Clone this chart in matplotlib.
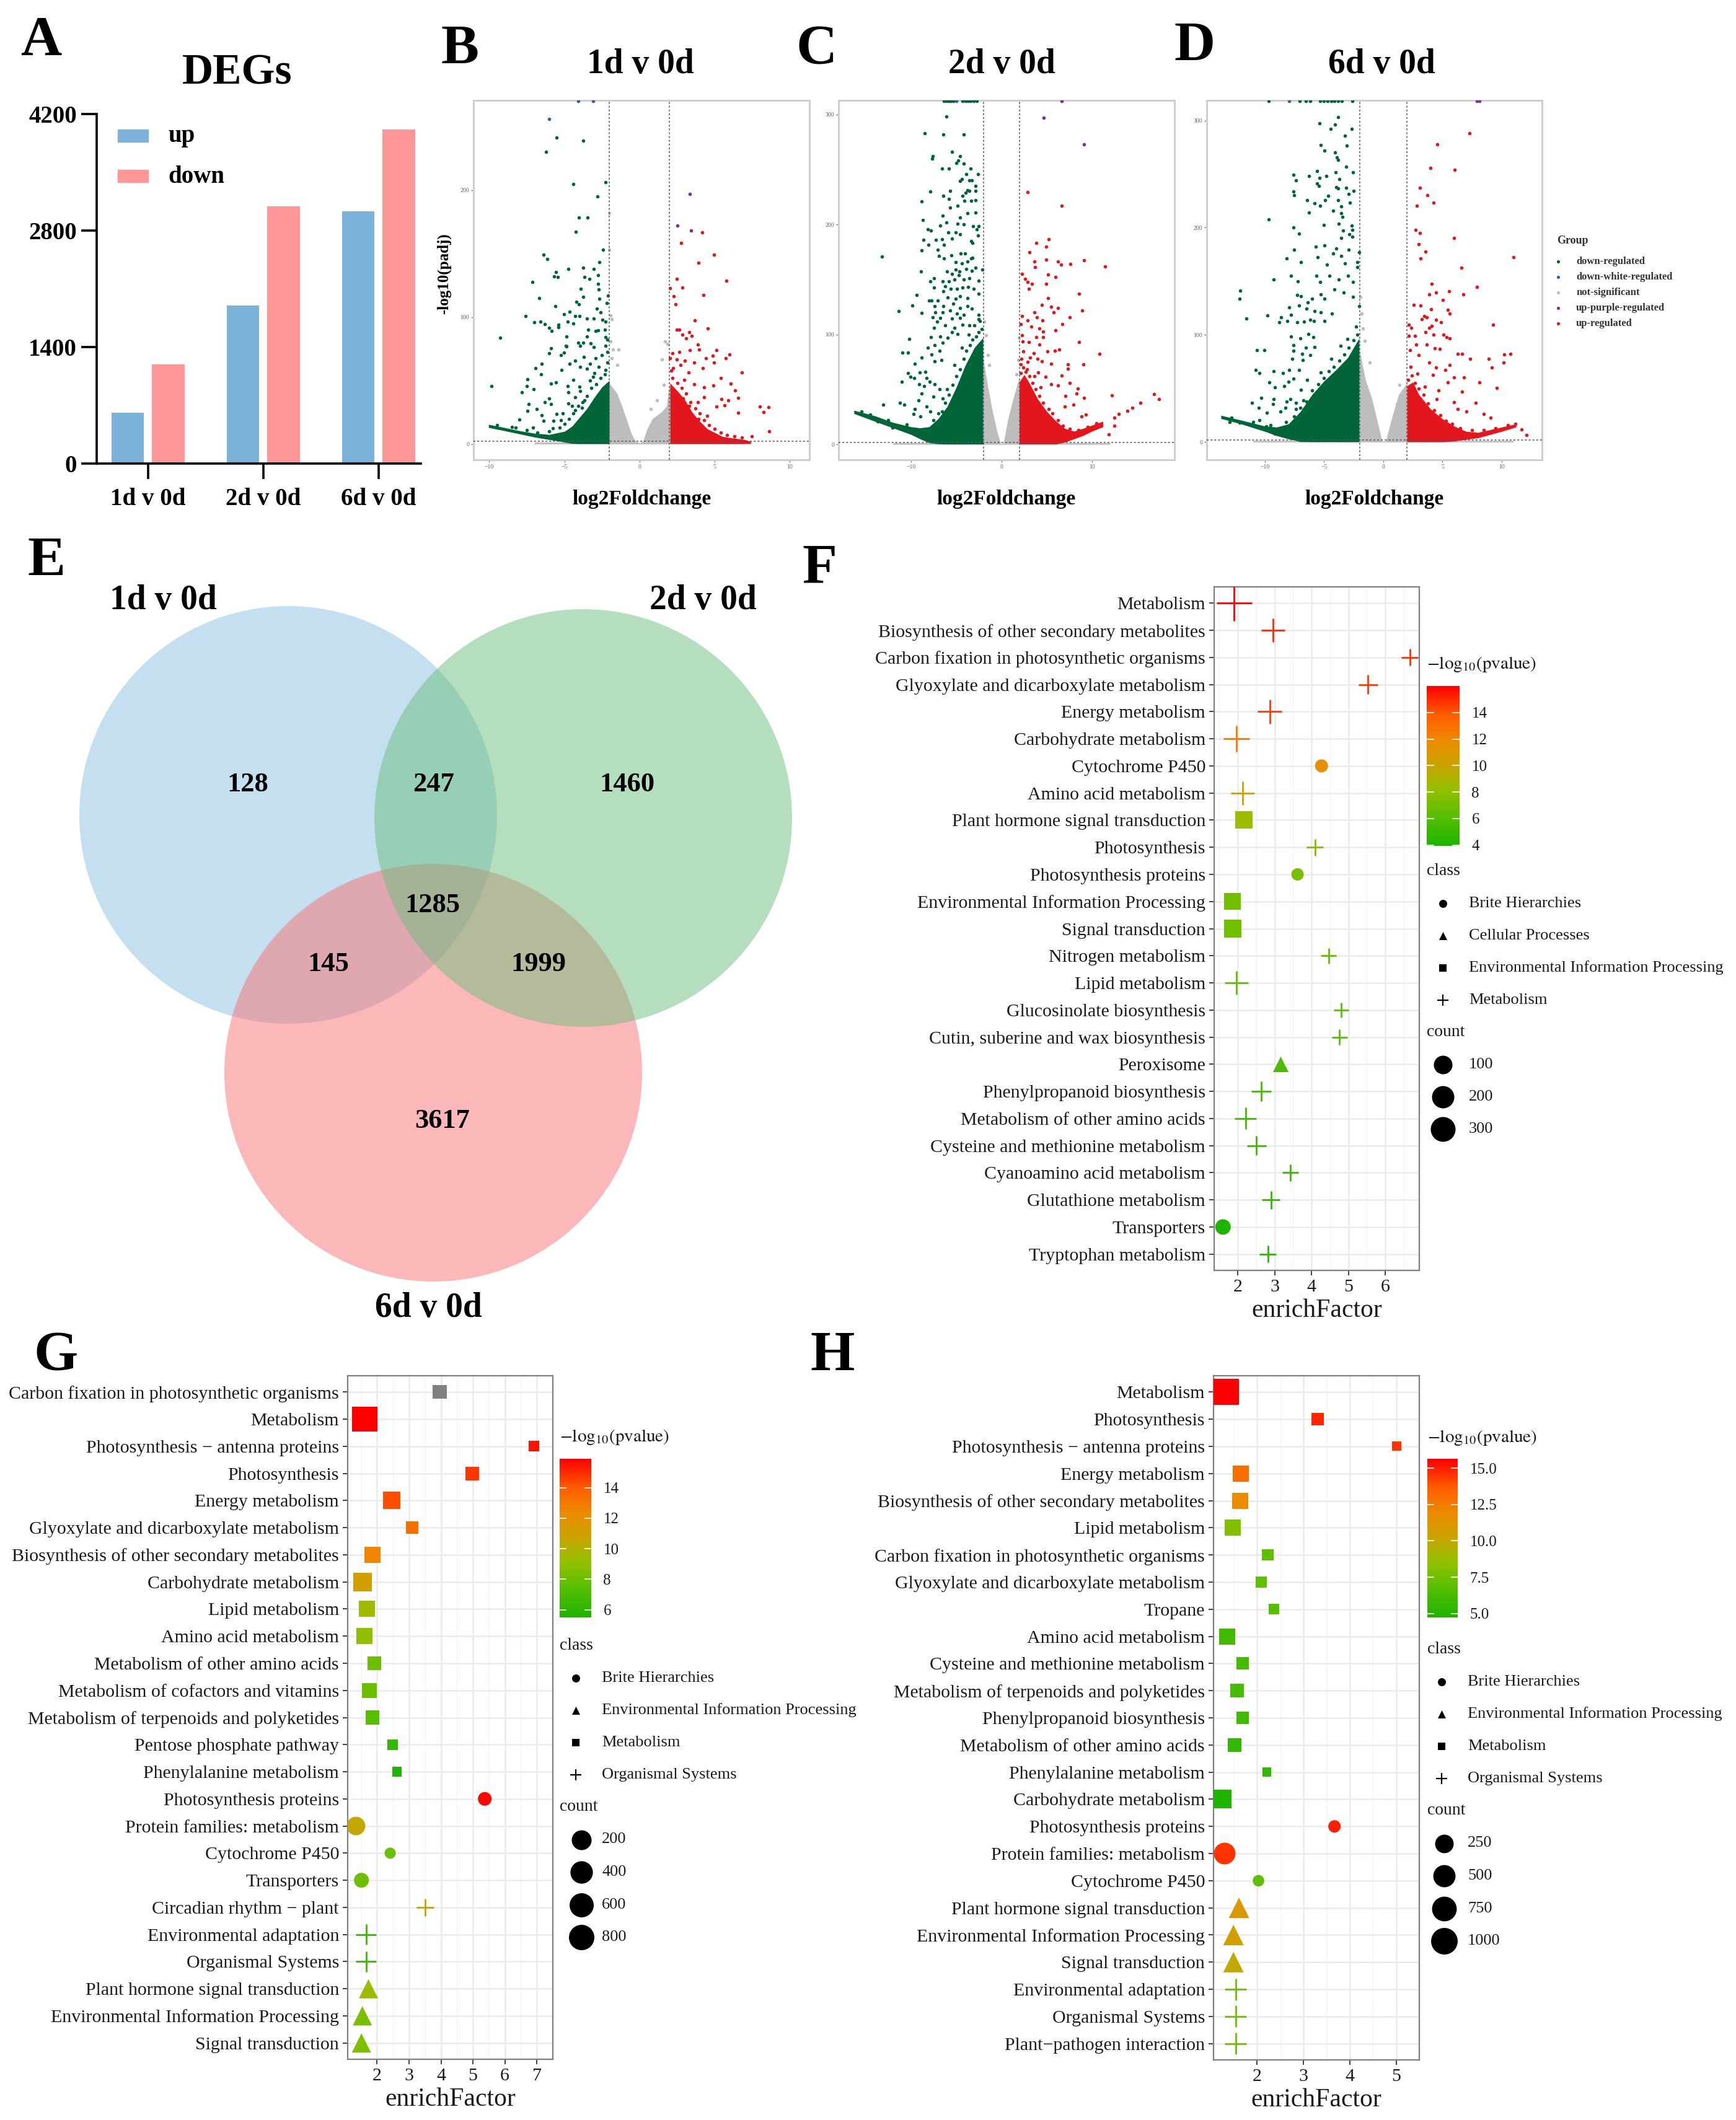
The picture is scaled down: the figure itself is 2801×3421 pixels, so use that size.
import numpy as np
import matplotlib
matplotlib.use("Agg")
import matplotlib.pyplot as plt
from matplotlib.patches import Circle, Rectangle
from matplotlib.colors import LinearSegmentedColormap, Normalize
from matplotlib.colorbar import ColorbarBase

W, H = 2801, 3421
plt.rcParams["font.family"] = ["Liberation Serif", "DejaVu Serif"]
plt.rcParams["mathtext.fontset"] = "stix"

# ---------------- A: number of DEGs ----------------
GROUPS = ["1d v 0d", "2d v 0d", "6d v 0d"]
UP = [610, 1900, 3030]
DOWN = [1195, 3091, 4016]

# ---------------- B-D: volcano plots ----------------
VOLCANO_GROUPS = ["down-regulated", "down-white-regulated", "not-significant",
                  "up-purple-regulated", "up-regulated"]

# dense clouds, read as envelopes (x, lower, upper)
B_GREY_X = [-7.0, -2.02, -2.02, -1.5, -1.16, -0.8, -0.54, -0.25, 0.0, 0.23, 0.5, 0.85, 1.2, 1.47, 1.8, 1.95, 2.02, 2.02, 7.0]
B_GREY_Y = [1.5, 1.5, 48, 40, 29.5, 17, 8, 2, 1, 2.5, 12, 20, 23, 25.5, 30, 45, 45, 1.5, 1.5]
B_DOWN_X = [-10.05, -9.0, -8.0, -7.0, -6.0, -5.0, -4.5, -4.0, -3.5, -3.0, -2.5, -2.02]
B_DOWN_LO = [13.0, 10.5, 8.0, 5.5, 3.5, 1.5, 0.5, 0.3, 0.3, 0.3, 0.3, 0.3]
B_DOWN_HI = [15.5, 13.0, 10.5, 8.5, 7.5, 10.0, 14.0, 21.0, 28.0, 37.0, 45.0, 50.0]
B_UP_X = [2.02, 2.5, 3.0, 3.5, 4.0, 4.5, 5.0, 5.5, 6.0, 7.0, 7.4]
B_UP_LO = [0.3, 0.3, 0.3, 0.3, 0.3, 0.3, 0.3, 0.3, 0.3, 0.3, 0.3]
B_UP_HI = [48, 42, 35, 25, 18, 12, 9, 6, 5, 3.5, 2]

B_DOWN_PTS = [(-5.51, 241), (-3.76, 238.6), (-6.21, 230), (-4.43, 204.8), (-2.25, 206.3), (-2.81, 194.8),
              (-4.02, 178.5), (-3.48, 178.5), (-4.25, 167), (-2.42, 153), (-6.40, 149), (-6.13, 145.5),
              (-2.67, 143), (-4.74, 138), (-3.76, 139), (-3.07, 138), (-5.56, 135.5), (-5.70, 132),
              (-5.43, 131.5), (-3.65, 131.5), (-3.34, 130), (-2.78, 133), (-7.13, 127.6), (-2.78, 126),
              (-2.72, 121.5), (-3.90, 122), (-6.69, 115), (-3.76, 116), (-2.10, 117), (-4.19, 112),
              (-4.02, 110), (-5.62, 108.5), (-2.66, 114.6), (-2.20, 111), (-2.86, 106.5), (-2.61, 103.5),
              (-5.02, 102), (-4.67, 104), (-7.58, 101), (-4.30, 101), (-3.99, 101), (-3.49, 99),
              (-3.06, 99), (-2.47, 97.6), (-2.28, 96.5), (-7.00, 96), (-6.60, 96.5), (-6.32, 94.6),
              (-4.77, 96.3), (-4.43, 95), (-5.42, 94), (-6.01, 91.7), (-5.40, 92), (-5.87, 89),
              (-3.42, 90), (-2.92, 89), (-2.75, 89.5), (-2.31, 90.2), (-9.29, 83.5), (-4.88, 84.7),
              (-3.52, 84.7), (-2.28, 84), (-2.13, 82), (-4.08, 79.7), (-3.76, 79.7), (-3.25, 79.3),
              (-4.89, 77.4), (-5.88, 75.4), (-4.86, 76.8), (-3.97, 77.4), (-3.06, 76.4), (-2.25, 77.4),
              (-6.02, 71.6), (-5.23, 70), (-5.05, 72.2), (-4.30, 65.8), (-3.71, 68.7), (-2.93, 67.8),
              (-2.14, 72.6), (-6.51, 63.2), (-6.91, 59.7), (-6.57, 54.9), (-5.20, 58.2), (-4.66, 63),
              (-3.96, 61), (-3.52, 59.1), (-3.29, 63), (-2.72, 61), (-2.25, 58.2), (-9.86, 45.7),
              (-7.48, 51), (-7.50, 45.7), (-7.84, 40.9), (-7.07, 43.2), (-5.90, 47.6), (-5.56, 48.6),
              (-4.80, 45.7), (-4.43, 50.5), (-4.74, 40.9), (-6.02, 36.1), (-7.38, 31.7), (-6.29, 32.8),
              (-5.90, 31.7), (-6.83, 27.4), (-7.45, 26.1), (-8.00, 19.4), (-8.23, 13), (-7.10, 13),
              (-6.52, 22.6), (-6.37, 18.4), (-5.75, 18.2), (-5.51, 23.6), (-5.12, 24.2), (-5.79, 12.5),
              (-5.25, 18.8), (-4.30, 26.5), (-4.74, 32.2), (-4.27, 37), (-3.85, 28.4), (-3.65, 34.2),
              (-3.96, 41.8),
              (-2.3, 55), (-2.6, 52), (-2.9, 47), (-3.2, 44), (-3.5, 38), (-3.8, 33), (-4.1, 30), (-4.4, 24),
              (-4.7, 20), (-5.0, 16), (-5.3, 13), (-2.15, 64), (-2.5, 70), (-3.0, 56), (-3.3, 50), (-3.1, 53),
              (-4.0, 45), (-4.5, 30), (-6.0, 10), (-6.8, 9), (-7.5, 11), (-8.5, 13.5), (-9.5, 15)]
B_UP_PTS = [(4.16, 166.6), (2.76, 158.5), (4.97, 149), (3.93, 142.6), (2.48, 130), (5.78, 128.6),
            (2.02, 122.8), (2.84, 123), (2.28, 116.5), (4.24, 117.3), (2.41, 110), (3.66, 97.5),
            (2.48, 90.2), (2.64, 90.2), (3.31, 88), (4.55, 91.2), (2.83, 86), (3.11, 83), (3.46, 85),
            (3.88, 78.3), (3.96, 74.5), (2.17, 71.6), (2.64, 72.6), (3.34, 74), (5.12, 74), (4.86, 69.7),
            (5.98, 70.6), (5.75, 67.8), (4.43, 67.8), (4.94, 64), (2.02, 67.8), (2.48, 66.8), (3.0, 65.8),
            (3.62, 64), (4.19, 59.7), (2.22, 59.7), (2.72, 62), (3.26, 56.2), (6.79, 56.2), (2.95, 50.5),
            (5.39, 51.8), (6.06, 47.6), (4.89, 46.3), (4.30, 44.7), (3.62, 47), (6.37, 42.4), (6.57, 36.5),
            (4.27, 37), (5.43, 35.5), (5.90, 34.2), (5.67, 30.3), (5.12, 29.4), (7.99, 29.7), (8.58, 29),
            (8.23, 25.1), (6.57, 24.6), (8.62, 10.2), (7.45, 6.3), (3.88, 33.2),
            (2.2, 52), (2.5, 48), (2.8, 44), (3.1, 40), (3.4, 33), (3.7, 28), (4.0, 24), (4.3, 19), (4.6, 15),
            (5.0, 12), (5.4, 9), (5.8, 7), (6.3, 6), (6.8, 5), (2.3, 40), (2.9, 36), (3.3, 30), (4.5, 22),
            (3.9, 20), (2.1, 58)]
B_GREY_PTS = [(-1.94, 101.3), (-1.86, 98.5), (-1.94, 81), (-1.79, 74.5), (-1.40, 74.5), (-1.86, 67.8),
              (-1.48, 62), (1.71, 81), (1.86, 79), (1.47, 66.8), (1.63, 46.6), (1.16, 34.2), (0.73, 27.4),
              (-2.0, 181.6), (-2.0, 153)]
B_BLUE = [(-6.0, 256), (-4.08, 270), (-3.10, 270)]
B_PURPLE = [(3.35, 196.7), (2.52, 172), (3.43, 168)]

C_GREY_X = [-12.0, -2.05, -2.05, -1.5, -1.0, -0.5, -0.1, 0.2, 0.7, 1.2, 1.8, 1.95, 1.95, 12.0]
C_GREY_Y = [1.5, 1.5, 79, 52, 30, 12, 1, 1, 23, 39, 56.8, 60, 1.5, 1.5]
C_DOWN_X = [-16.3, -14.0, -12.0, -10.0, -9.0, -8.0, -7.0, -6.0, -5.0, -4.0, -3.0, -2.05]
C_DOWN_LO = [28, 21, 15, 9, 5, 1.5, 0.5, 0.3, 0.3, 0.3, 0.3, 0.3]
C_DOWN_HI = [31, 26, 20, 16, 15, 16, 23.4, 34.5, 52, 72, 88, 97]
C_UP_X = [1.95, 2.5, 3.0, 3.5, 4.0, 5.0, 6.0, 7.0, 8.0, 9.0, 10.0, 11.2]
C_UP_LO = [0.3, 0.3, 0.3, 0.3, 0.3, 0.3, 0.3, 2, 5, 8, 12, 16]
C_UP_HI = [56.8, 63.5, 56.8, 49, 41.2, 30, 21.2, 14.5, 12, 14.5, 17.5, 21]

C_DOWN_PTS = [(-6.10, 298), (-8.49, 283), (-6.41, 281.7), (-4.17, 281.7), (-5.48, 265.7), (-7.59, 262),
              (-7.64, 260), (-4.56, 262), (-4.81, 258), (-5.02, 256), (-4.17, 255), (-6.56, 250.5),
              (-5.79, 250.5), (-3.40, 250.5), (-4.61, 239.4), (-4.38, 241), (-3.91, 245.7), (-3.58, 239.9),
              (-3.27, 239.9), (-2.57, 245.7), (-2.86, 235), (-7.85, 229.8), (-5.69, 230.5), (-6.46, 226),
              (-5.84, 223.4), (-3.99, 228.7), (-3.78, 231), (-3.58, 230.5), (-2.86, 230.5), (-4.30, 226),
              (-4.09, 221.6), (-3.37, 221.6), (-2.88, 222), (-8.80, 220.7), (-5.71, 215.3), (-4.86, 217),
              (-3.73, 210), (-2.86, 210.9), (-6.49, 208.2), (-8.67, 204.2), (-6.10, 202), (-4.56, 206),
              (-4.86, 200.4), (-4.14, 199.8), (-6.74, 198.7), (-3.14, 198.2), (-2.50, 198.2), (-8.11, 195.8),
              (-7.77, 194.2), (-5.89, 193), (-5.07, 192.6), (-4.56, 190.9), (-2.75, 195.3), (-2.63, 190),
              (-8.62, 186), (-7.23, 186), (-6.56, 186.6), (-5.46, 187), (-3.32, 184.9), (-3.19, 183.3),
              (-8.06, 181.5), (-6.36, 181.5), (-8.80, 176.6), (-7.03, 177), (-4.04, 173.7), (-4.50, 173.7),
              (-5.53, 171.9), (-6.92, 171.5), (-3.22, 169.9), (-13.23, 170.8), (-6.36, 169.3), (-5.07, 165.5),
              (-4.35, 164.8), (-3.78, 166), (-3.37, 169.3), (-2.11, 159.2), (-8.93, 157.5), (-6.02, 157),
              (-5.46, 154.8), (-5.07, 159.2), (-4.68, 157), (-3.91, 159.7), (-3.27, 158), (-2.88, 160.4),
              (-7.44, 151.2), (-7.90, 148), (-6.49, 148), (-5.84, 148), (-5.17, 149.9), (-4.74, 153.7),
              (-4.17, 149.9), (-3.53, 150.8), (-2.50, 148.6), (-7.44, 142.5), (-6.23, 143.7), (-5.64, 141.4),
              (-4.94, 141.4), (-4.30, 142.5), (-3.66, 143.2), (-3.06, 141.4), (-9.37, 135.6), (-6.41, 139.2),
              (-8.03, 130.7), (-7.70, 130.7), (-7.08, 130.7), (-5.97, 133.6), (-5.07, 132.5), (-4.61, 134.7),
              (-3.78, 133), (-2.50, 137), (-9.83, 126.5), (-7.39, 125.8), (-6.41, 125.8), (-5.33, 128),
              (-4.56, 124), (-3.78, 125.8), (-3.27, 123.6), (-11.38, 121.4), (-8.80, 119.6), (-7.34, 120.3),
              (-6.49, 119.8), (-5.71, 121.8), (-4.94, 119.2), (-4.17, 118), (-2.50, 118), (-7.59, 115.4),
              (-7.13, 111.4), (-6.74, 115.2), (-5.46, 114.7), (-4.61, 115.2), (-2.50, 113.6), (-7.44, 105.8),
              (-6.23, 108.5), (-5.20, 105.8), (-4.30, 109), (-3.53, 108), (-10.17, 95.8), (-7.77, 97.3),
              (-6.74, 98), (-5.97, 96.9), (-5.46, 101.8), (-4.86, 100.2), (-8.16, 88), (-7.39, 90.2),
              (-6.49, 92.4), (-10.94, 83.5), (-10.35, 83.5), (-7.70, 81.7), (-8.85, 79), (-6.87, 85.3),
              (-9.58, 73.5), (-7.39, 75.7), (-6.62, 76.8), (-9.01, 65.7), (-8.42, 66.1), (-10.35, 64.6),
              (-10.09, 61.7), (-9.65, 60.1), (-8.29, 60.1), (-10.99, 56.8), (-9.11, 54.6), (-8.55, 52.8),
              (-7.95, 56.8), (-7.39, 54.6), (-11.20, 37.9), (-10.73, 36.3), (-12.02, 15.1), (-13.69, 21.2),
              (-13.05, 36.1), (-8.80, 46.1), (-9.19, 40.1), (-9.58, 32.3), (-9.70, 27.8), (-8.98, 25.6),
              (-8.29, 34.5), (-7.90, 30), (-7.52, 43.4), (-6.87, 50.1),
              (-2.2, 105), (-2.5, 102), (-2.8, 98), (-3.2, 95), (-3.5, 90), (-3.9, 85), (-4.2, 78), (-4.6, 68),
              (-5.0, 62), (-5.4, 54), (-5.8, 45), (-6.2, 38), (-6.6, 30), (-7.0, 28), (-7.5, 22), (-2.4, 112),
              (-3.0, 108), (-3.6, 100), (-4.4, 88), (-5.2, 72), (-6.0, 50), (-6.5, 42), (-10.5, 18),
              (-12.5, 22), (-14.5, 27), (-15.5, 30),
              (-6.36, 312), (-6.10, 312), (-5.85, 312), (-5.60, 312), (-5.33, 312), (-4.30, 312),
              (-4.00, 312), (-3.70, 312), (-3.40, 312), (-3.10, 312), (-2.75, 312)]
C_UP_PTS = [(2.91, 229.4), (6.64, 217.1), (3.81, 183.3), (5.23, 186.4), (4.92, 179.7), (3.11, 174.8),
            (3.60, 166.4), (4.92, 168.2), (6.25, 166.4), (6.59, 163.7), (7.59, 164.1), (9.09, 167.5),
            (11.45, 161.5), (3.68, 161), (2.27, 155.2), (5.15, 154.3), (5.95, 152.1), (2.60, 150.3),
            (2.86, 147.7), (3.37, 145.9), (4.92, 145.9), (3.04, 141.4), (5.17, 133), (8.57, 137),
            (4.45, 127), (5.48, 125.2), (6.25, 124), (8.88, 121.8), (3.63, 119.8), (5.74, 119.8),
            (3.89, 115.8), (4.50, 112.9), (7.54, 115.8), (2.27, 116.5), (6.72, 109.1), (2.14, 109.1),
            (2.86, 112.5), (3.29, 106.9), (4.20, 105.3), (4.58, 102.4), (5.95, 103.6), (2.27, 99.1),
            (3.81, 97.3), (4.58, 97.3), (8.57, 92.9), (2.34, 93.5), (3.04, 92.9), (4.20, 90.6),
            (5.10, 84.6), (5.87, 85.3), (6.38, 86.2), (10.84, 82.4), (2.39, 84.6), (3.55, 83.1),
            (3.17, 79), (3.94, 77.9), (4.45, 75.7), (5.48, 73.5), (7.34, 72.8), (7.34, 69), (9.01, 72.8),
            (2.14, 72.8), (2.78, 68), (4.07, 65.3), (4.84, 61.2), (6.64, 62.4), (7.54, 55.7), (5.48, 54.6),
            (6.25, 53.5), (8.44, 50.6), (12.18, 44.5), (16.81, 45.7), (17.38, 41.2), (15.34, 37.9),
            (14.44, 33.4), (13.93, 30.5), (12.95, 27.8), (12.43, 24.5), (12.43, 16.7), (11.87, 8.9),
            (9.09, 42.3), (8.31, 46.1), (9.34, 27.4), (8.83, 25.2), (7.93, 36.3), (7.08, 43.9), (6.98, 34.5),
            (2.1, 65), (2.4, 70), (2.7, 66), (3.1, 62), (3.4, 56), (3.8, 50), (4.2, 44), (4.6, 38), (5.2, 32),
            (5.6, 28), (6.2, 22), (6.8, 17), (7.5, 14), (8.5, 13), (9.5, 16), (10.5, 19), (2.2, 78), (2.9, 75),
            (3.6, 62), (4.3, 52)]
C_GREY_PTS = [(-1.93, 111.4), (-1.72, 99), (-1.52, 81.3), (-1.34, 72.4), (1.93, 96.9), (1.83, 76.8),
              (1.62, 63.5)]
C_BLUE = [(-4.97, 312)]
C_PURPLE = [(4.66, 296.9), (9.09, 272.8), (6.64, 312)]

D_GREY_X = [-11.0, -2.04, -2.04, -1.5, -1.0, -0.5, -0.1, 0.2, 0.7, 1.3, 1.9, 2.0, 2.0, 11.0]
D_GREY_Y = [1.5, 1.5, 88, 58, 42, 19.4, 1, 1, 21.7, 44.5, 53.7, 55, 1.5, 1.5]
D_DOWN_X = [-13.7, -12.0, -10.0, -9.0, -8.0, -7.0, -6.0, -5.0, -4.0, -3.0, -2.04]
D_DOWN_LO = [22, 17, 10, 6, 3, 0.5, 0.3, 0.3, 0.3, 0.3, 0.3]
D_DOWN_HI = [25, 20.5, 15, 14, 17, 28.5, 44.5, 57, 67.4, 78.8, 97]
D_UP_X = [2.0, 2.5, 3.0, 4.0, 5.0, 6.0, 7.0, 8.0, 9.0, 10.0, 11.2]
D_UP_LO = [0.3, 0.3, 0.3, 0.3, 0.3, 1, 2.5, 4, 7, 10, 14]
D_UP_HI = [52.5, 56, 44.5, 30.8, 21.7, 14.8, 10, 9, 11.5, 14, 17]

D_DOWN_PTS = [(-3.83, 303.4), (-5.39, 297.5), (-4.05, 296.3), (-4.45, 292.4), (-2.65, 292.4), (-3.25, 286),
              (-5.25, 277.1), (-3.07, 276.7), (-4.95, 271.9), (-4.05, 270.3), (-3.89, 265.7), (-3.79, 263.4),
              (-3.11, 257), (-7.56, 249.5), (-7.39, 244.5), (-6.29, 248.3), (-5.61, 252.9), (-5.39, 246.7),
              (-4.79, 248.3), (-4.03, 251.8), (-3.69, 245.4), (-2.55, 251.8), (-5.59, 241.3), (-5.45, 239),
              (-3.99, 238.1), (-3.79, 236.8), (-3.11, 237.4), (-7.56, 233.6), (-7.51, 230.6), (-4.65, 229.5),
              (-2.51, 234.5), (-2.91, 231.7), (-6.45, 225.6), (-4.91, 226), (-3.83, 226), (-2.83, 223.7),
              (-5.81, 223), (-5.35, 220.3), (-4.23, 215.8), (-3.55, 219.9), (-6.25, 214.2), (-3.55, 213.5),
              (-9.66, 207.8), (-5.01, 202.7), (-3.43, 210), (-2.65, 202), (-3.75, 203.7), (-7.56, 200.2),
              (-2.59, 197.9), (-3.39, 197.5), (-2.85, 194.1), (-2.59, 191.8), (-7.11, 194.7), (-3.55, 190.6),
              (-5.71, 182.6), (-4.95, 183.8), (-7.52, 179.7), (-3.99, 180.4), (-2.91, 179.7), (-2.04, 177),
              (-8.16, 171.2), (-6.95, 167.8), (-5.55, 172.4), (-4.25, 175.8), (-3.55, 173.5), (-3.25, 166.7),
              (-2.20, 167.8), (-2.18, 163.2), (-4.75, 165.5), (-9.26, 151.8), (-7.76, 155.3), (-7.19, 150.2),
              (-5.65, 155.3), (-5.35, 149.5), (-4.55, 155.3), (-3.75, 151.8), (-2.95, 155.3), (-2.55, 149.5),
              (-12.10, 141.6), (-12.12, 133.6), (-7.25, 137), (-6.95, 136.3), (-6.39, 130.1), (-5.99, 133.6),
              (-5.25, 138.1), (-4.95, 134), (-4.15, 142.7), (-3.35, 139.3), (-2.55, 135.8), (-2.04, 126.7),
              (-7.11, 127.4), (-7.96, 125.6), (-6.49, 124.4), (-5.79, 122.1), (-5.25, 121), (-4.35, 119.9),
              (-11.56, 115.3), (-9.76, 118), (-8.60, 116.4), (-8.80, 111.9), (-8.10, 113), (-7.76, 118.7),
              (-7.25, 111.9), (-6.69, 112.3), (-6.15, 114.1), (-5.85, 113), (-4.95, 113), (-7.76, 98.6),
              (-6.31, 100.9), (-5.91, 98.2), (-6.99, 97), (-7.56, 90.2), (-6.55, 87.9), (-5.81, 89),
              (-10.64, 85.6), (-10.05, 85.6), (-7.56, 85.2), (-6.85, 82.2), (-6.15, 81.1), (-7.66, 77.6),
              (-6.79, 76.5), (-10.76, 67.4), (-10.46, 64.6), (-9.26, 66.2), (-8.46, 64.6), (-7.96, 67.4),
              (-7.11, 67.4), (-9.64, 55.9), (-9.12, 51.4), (-8.36, 52.5), (-7.99, 56.4), (-7.56, 59.4),
              (-6.95, 49.1), (-6.45, 58.2), (-10.32, 41.1), (-11.06, 36.5), (-10.52, 32), (-9.80, 27.4),
              (-9.26, 40), (-9.28, 35.4), (-8.70, 28.5), (-8.16, 38.1), (-8.26, 32), (-7.86, 40),
              (-7.39, 36.5), (-7.35, 30.8), (-6.75, 38.8), (-6.69, 30.8), (-12.12, 18.3), (-12.97, 19),
              (-10.46, 20.5), (-9.86, 14.8), (-9.12, 8),
              (-2.2, 100), (-2.5, 95), (-2.9, 88), (-3.3, 82), (-3.7, 76), (-4.2, 70), (-4.6, 66), (-5.0, 60),
              (-5.5, 54), (-6.0, 48), (-6.5, 38), (-7.0, 32), (-7.5, 24), (-8.2, 19), (-9.5, 16), (-11.0, 19),
              (-12.8, 23), (-2.3, 108), (-3.0, 96), (-3.6, 90), (-4.4, 78), (-5.3, 65),
              (-9.66, 318), (-7.05, 318), (-6.55, 318), (-6.15, 318), (-5.35, 318), (-5.0, 318),
              (-4.7, 318), (-4.4, 318), (-4.1, 318), (-3.8, 318), (-3.5, 318), (-2.59, 318)]
D_UP_PTS = [(7.27, 287.9), (4.57, 278), (4.01, 255.9), (6.03, 254.3), (3.07, 237.4), (3.73, 230.6),
            (4.23, 223.7), (2.81, 220.3), (2.73, 197.9), (3.07, 195.2), (5.97, 190.2), (3.01, 184.9),
            (3.57, 177.6), (3.17, 171.2), (11.00, 172.8), (6.61, 162.8), (4.11, 147.7), (7.92, 145),
            (3.87, 138.1), (4.43, 139.7), (5.57, 140.9), (6.77, 138.1), (5.01, 132.4), (2.57, 127.9),
            (3.17, 127.2), (4.03, 124), (5.47, 123.3), (5.63, 119.9), (3.47, 117.6), (3.23, 114.8),
            (3.67, 116.4), (4.47, 114.2), (4.87, 111.9), (2.16, 109.6), (2.36, 106.6), (3.87, 106.6),
            (4.07, 108.4), (9.28, 109.6), (3.57, 102.7), (4.27, 100.5), (5.07, 100.5), (5.37, 98.2),
            (2.16, 99.3), (2.67, 98.9), (5.63, 97), (2.77, 91.3), (3.67, 91.3), (4.37, 87.4), (4.77, 86.8),
            (6.27, 82.2), (6.63, 82.2), (10.20, 81.5), (10.72, 82.2), (7.31, 77.6), (8.92, 77.6),
            (10.18, 74.2), (2.26, 85.6), (2.97, 81.1), (3.87, 74.2), (4.47, 69.6), (5.23, 67.4),
            (5.63, 71.9), (9.18, 69.6), (5.97, 60.5), (6.83, 60.5), (8.12, 55.5), (9.58, 50.3),
            (6.67, 47.3), (7.78, 36.5), (5.47, 55.9), (4.67, 48), (4.17, 62.8), (7.03, 28.5), (8.48, 26.3),
            (9.04, 22.8), (5.97, 37.2), (6.27, 30.8), (11.17, 17.1), (11.67, 12.1), (12.07, 6.9),
            (2.1, 58), (2.4, 62), (2.7, 55), (3.0, 50), (3.4, 44), (3.8, 36), (4.3, 30), (4.8, 25), (5.3, 20),
            (5.8, 17), (6.5, 13), (7.5, 11), (8.5, 11), (9.5, 13), (10.5, 16), (2.3, 70), (2.9, 64), (3.5, 52),
            (4.5, 40)]
D_GREY_PTS = [(-1.94, 135.8), (-1.84, 119.9), (-1.74, 106.2), (-1.54, 94.7), (-1.14, 74.2), (1.36, 53.7),
              (1.56, 42.2), (1.16, 35.4)]
D_BLUE = [(-7.96, 318)]
D_PURPLE = [(7.9, 318), (8.1, 318)]

# ---------------- E: Venn ----------------
VENN_SETS = ["1d v 0d", "2d v 0d", "6d v 0d"]
VENN_REGIONS = ["100", "110", "010", "111", "101", "011", "001"]
VENN_COUNTS = [128, 247, 1460, 1285, 145, 1999, 3617]

# ---------------- F-H: KEGG enrichment ----------------
MINUS = "\u2212"
F_TERMS = ["Metabolism", "Biosynthesis of other secondary metabolites",
           "Carbon fixation in photosynthetic organisms", "Glyoxylate and dicarboxylate metabolism",
           "Energy metabolism", "Carbohydrate metabolism", "Cytochrome P450", "Amino acid metabolism",
           "Plant hormone signal transduction", "Photosynthesis", "Photosynthesis proteins",
           "Environmental Information Processing", "Signal transduction", "Nitrogen metabolism",
           "Lipid metabolism", "Glucosinolate biosynthesis", "Cutin, suberine and wax biosynthesis",
           "Peroxisome", "Phenylpropanoid biosynthesis", "Metabolism of other amino acids",
           "Cysteine and methionine metabolism", "Cyanoamino acid metabolism", "Glutathione metabolism",
           "Transporters", "Tryptophan metabolism"]
F_FACTOR = [1.90, 2.96, 6.66, 5.53, 2.87, 1.97, 4.27, 2.14, 2.16, 4.09, 3.62, 1.86, 1.86, 4.46, 1.97,
            4.81, 4.76, 3.16, 2.63, 2.21, 2.51, 3.43, 2.90, 1.60, 2.82]
F_PVAL = [16.0, 15.0, 14.8, 14.6, 14.6, 12.5, 11.5, 10.5, 8.5, 7.5, 7.2, 7.0, 7.0, 6.6, 6.5, 6.2, 6.1,
          5.8, 5.6, 5.4, 5.2, 5.0, 4.8, 3.93, 4.5]
F_COUNT = [368, 78, 21, 36, 87, 115, 26, 78, 94, 21, 21, 81, 94, 16, 78, 14, 14, 50, 41, 57, 36, 19, 28,
           50, 21]
F_CLASS = ["Metabolism"] * 6 + ["Brite Hierarchies", "Metabolism", "Environmental Information Processing",
           "Metabolism", "Brite Hierarchies", "Environmental Information Processing",
           "Environmental Information Processing"] + ["Metabolism"] * 4 + ["Cellular Processes"] + \
          ["Metabolism"] * 5 + ["Brite Hierarchies", "Metabolism"]
F_CLASSES = ["Brite Hierarchies", "Cellular Processes", "Environmental Information Processing", "Metabolism"]
F_COUNT_BREAKS = [100, 200, 300]

G_TERMS = ["Carbon fixation in photosynthetic organisms", "Metabolism",
           "Photosynthesis " + MINUS + " antenna proteins", "Photosynthesis", "Energy metabolism",
           "Glyoxylate and dicarboxylate metabolism", "Biosynthesis of other secondary metabolites",
           "Carbohydrate metabolism", "Lipid metabolism", "Amino acid metabolism",
           "Metabolism of other amino acids", "Metabolism of cofactors and vitamins",
           "Metabolism of terpenoids and polyketides", "Pentose phosphate pathway",
           "Phenylalanine metabolism", "Photosynthesis proteins", "Protein families: metabolism",
           "Cytochrome P450", "Transporters", "Circadian rhythm " + MINUS + " plant",
           "Environmental adaptation", "Organismal Systems", "Plant hormone signal transduction",
           "Environmental Information Processing", "Signal transduction"]
G_FACTOR = [3.96, 1.61, 6.90, 4.98, 2.46, 3.09, 1.86, 1.54, 1.69, 1.61, 1.92, 1.76, 1.86, 2.49, 2.63,
            5.37, 1.34, 2.41, 1.51, 3.51, 1.66, 1.66, 1.73, 1.54, 1.51]
G_PVAL = [np.nan, 15.9, 15.5, 14.8, 14.3, 13.3, 12.5, 11.0, 9.5, 9.0, 8.0, 8.0, 7.5, 6.2, 5.5, 15.8,
          10.5, 8.0, 8.0, 11.0, 6.5, 6.5, 9.5, 8.5, 8.5]
G_COUNT = [33, 1000, 8, 33, 127, 19, 84, 186, 84, 84, 33, 54, 33, 8, 4, 25, 139, 8, 40, 18, 44, 44, 168,
           168, 168]
G_CLASS = ["Metabolism"] * 15 + ["Brite Hierarchies"] * 4 + ["Organismal Systems"] * 3 + \
          ["Environmental Information Processing"] * 3
G_CLASSES = ["Brite Hierarchies", "Environmental Information Processing", "Metabolism", "Organismal Systems"]
G_COUNT_BREAKS = [200, 400, 600, 800]

H_TERMS = ["Metabolism", "Photosynthesis", "Photosynthesis " + MINUS + " antenna proteins",
           "Energy metabolism", "Biosynthesis of other secondary metabolites", "Lipid metabolism",
           "Carbon fixation in photosynthetic organisms", "Glyoxylate and dicarboxylate metabolism",
           "Tropane", "Amino acid metabolism", "Cysteine and methionine metabolism",
           "Metabolism of terpenoids and polyketides", "Phenylpropanoid biosynthesis",
           "Metabolism of other amino acids", "Phenylalanine metabolism", "Carbohydrate metabolism",
           "Photosynthesis proteins", "Protein families: metabolism", "Cytochrome P450",
           "Plant hormone signal transduction", "Environmental Information Processing",
           "Signal transduction", "Environmental adaptation", "Organismal Systems",
           "Plant" + MINUS + "pathogen interaction"]
H_FACTOR = [1.33, 3.31, 5.01, 1.65, 1.63, 1.47, 2.23, 2.09, 2.36, 1.36, 1.69, 1.57, 1.69, 1.51, 2.21,
            1.25, 3.67, 1.30, 2.03, 1.61, 1.49, 1.49, 1.54, 1.54, 1.54]
H_PVAL = [15.64, 14.8, 14.5, 13.0, 11.8, 8.0, 7.0, 7.0, 6.8, 6.0, 6.2, 6.2, 6.0, 5.5, 5.5, 4.74, 15.0,
          14.5, 7.0, 11.0, 10.5, 10.0, 7.5, 7.5, 7.5]
H_COUNT = [1078, 64, 21, 176, 176, 176, 48, 48, 34, 176, 64, 93, 64, 93, 21, 306, 53, 455, 39, 363, 363,
           363, 145, 145, 145]
H_CLASS = ["Metabolism"] * 16 + ["Brite Hierarchies"] * 3 + ["Environmental Information Processing"] * 3 + \
          ["Organismal Systems"] * 3
H_CLASSES = G_CLASSES
H_COUNT_BREAKS = [250, 500, 750, 1000]

# ---------------- styles ----------------
BAR_UP_C, BAR_DOWN_C = "#7db3da", "#ff9799"
V_DOWN, V_BLUE, V_GREY, V_PURPLE, V_UP = "#00663a", "#2f5f9e", "#bdbdbd", "#7a2e9a", "#e3161e"
VENN_COLORS = ["#8bc1e3", "#6bbf7d", "#fb7373"]
KEGG_CMAP = LinearSegmentedColormap.from_list(
    "kegg", [(0.0, "#1eb400"), (0.18, "#55be00"), (0.35, "#94c000"), (0.5, "#c8a500"),
             (0.66, "#ee8a00"), (0.82, "#ff5c00"), (1.0, "#ff0000")])
SHAPES = ["o", "^", "s", "+"]
SHAPE_SCALE = {"o": 1.0, "^": 1.0, "s": 0.95, "+": 1.35}

fig = plt.figure(figsize=(W / 100, H / 100), dpi=100)
fig.patch.set_facecolor("white")


def box(x0, y0, x1, y1):
    return [x0 / W, 1 - y1 / H, (x1 - x0) / W, (y1 - y0) / H]


def pt(px):
    return px * 0.72


# overlay in pixel coordinates for labels, legends and the Venn
ov = fig.add_axes([0, 0, 1, 1], zorder=5)
ov.set_xlim(0, W)
ov.set_ylim(H, 0)
ov.axis("off")

# ================= A =================
ax = fig.add_axes(box(156, 184, 679, 748))
pos = np.arange(len(GROUPS))
ax.bar(pos - 0.175, UP, 0.28, color=BAR_UP_C)
ax.bar(pos + 0.175, DOWN, 0.28, color=BAR_DOWN_C)
ax.set_xlim(-0.446, 2.366)
ax.set_ylim(0, 4200)
ax.set_yticks([0, 1400, 2800, 4200])
ax.set_xticks(pos, GROUPS)
for s in ["top", "right"]:
    ax.spines[s].set_visible(False)
for s in ["left", "bottom"]:
    ax.spines[s].set_linewidth(2.6)
ax.tick_params(width=2.6, length=18, labelsize=28, pad=5)
ax.tick_params(axis="x", pad=10)
for lbl in ax.get_xticklabels() + ax.get_yticklabels():
    lbl.set_fontweight("bold")
ov.add_patch(Rectangle((190, 209), 49, 20, color=BAR_UP_C))
ov.add_patch(Rectangle((190, 274), 49, 20, color=BAR_DOWN_C))
ov.text(271, 229, "up", fontsize=28, fontweight="bold", va="baseline")
ov.text(271, 295, "down", fontsize=28, fontweight="bold", va="baseline")
ov.text(383, 136, "DEGs", fontsize=50, fontweight="bold", ha="center", va="baseline")


# ================= B-D =================
def volcano(rect, xlim, ylim, xticks, yticks, grey, down_env, up_env, down_pts, up_pts,
            grey_pts, blue_pts, purple_pts):
    a = fig.add_axes(box(*rect))
    a.set_xlim(*xlim)
    a.set_ylim(*ylim)
    a.fill_between(grey[0], 0, grey[1], color=V_GREY, lw=0, zorder=1)
    a.fill_between(down_env[0], down_env[1], down_env[2], color=V_DOWN, lw=0, zorder=2)
    a.fill_between(up_env[0], up_env[1], up_env[2], color=V_UP, lw=0, zorder=2)
    for pts, c in [(grey_pts, V_GREY), (down_pts, V_DOWN), (up_pts, V_UP),
                   (blue_pts, V_BLUE), (purple_pts, V_PURPLE)]:
        xs, ys = zip(*pts)
        a.scatter(xs, ys, s=16, color=c, lw=0, zorder=3)
    for xv in (-2, 2):
        a.axvline(xv, color="#555555", lw=1.1, ls=(0, (2, 2)), zorder=4)
    a.axhline(2, color="#555555", lw=1.1, ls=(0, (2, 2)), zorder=4)
    a.set_xticks(xticks)
    a.set_yticks(yticks)
    a.tick_params(labelsize=7, colors="#666666", length=3, width=0.8, pad=2)
    for s in a.spines.values():
        s.set_color("#cfcfcf")
        s.set_linewidth(2.2)
    return a


volcano((764, 162, 1306, 742), (-11.05, 11.3), (-12.4, 270.5), [-10, -5, 0, 5, 10], [0, 100, 200],
        (B_GREY_X, B_GREY_Y), (B_DOWN_X, B_DOWN_LO, B_DOWN_HI), (B_UP_X, B_UP_LO, B_UP_HI),
        B_DOWN_PTS, B_UP_PTS, B_GREY_PTS, B_BLUE, B_PURPLE)
volcano((1353, 162, 1895, 742), (-18.0, 19.1), (-14.0, 312.7), [-10, 0, 10], [0, 100, 200, 300],
        (C_GREY_X, C_GREY_Y), (C_DOWN_X, C_DOWN_LO, C_DOWN_HI), (C_UP_X, C_UP_LO, C_UP_HI),
        C_DOWN_PTS, C_UP_PTS, C_GREY_PTS, C_BLUE, C_PURPLE)
volcano((1947, 162, 2488, 742), (-14.9, 13.4), (-16.5, 318.8), [-10, -5, 0, 5, 10], [0, 100, 200, 300],
        (D_GREY_X, D_GREY_Y), (D_DOWN_X, D_DOWN_LO, D_DOWN_HI), (D_UP_X, D_UP_LO, D_UP_HI),
        D_DOWN_PTS, D_UP_PTS, D_GREY_PTS, D_BLUE, D_PURPLE)

for cx, title in zip([1033, 1616, 2229], GROUPS):
    ov.text(cx, 118, title, fontsize=40, fontweight="bold", ha="center", va="baseline")
for cx in [1035, 1624, 2218]:
    ov.text(cx, 814, "log2Foldchange", fontsize=24, fontweight="bold", ha="center", va="baseline")
ov.text(716, 442, "-log10(padj)", fontsize=18, fontweight="bold", rotation=90, ha="center", va="center")

ov.text(2512, 393, "Group", fontsize=13, fontweight="bold", color="#333333", va="baseline")
for i, (name, c) in enumerate(zip(VOLCANO_GROUPS, [V_DOWN, V_BLUE, V_GREY, V_PURPLE, V_UP])):
    yy = 422 + 25 * i
    ov.scatter([2514], [yy], s=14, color=c, lw=0)
    ov.text(2543, yy, name, fontsize=12, fontweight="bold", color="#333333", va="center")

# ================= E =================
for (cx, cy), c in zip([(465, 1315), (699, 1731), (941, 1320)],
                       [VENN_COLORS[0], VENN_COLORS[2], VENN_COLORS[1]]):
    ov.add_patch(Circle((cx, cy), 337, facecolor=c, alpha=0.5, lw=0))
VENN_TEXT_POS = {"100": (400, 1277), "110": (700, 1277), "010": (1012, 1277), "111": (698, 1472),
                 "101": (530, 1567), "011": (869, 1567), "001": (714, 1820)}
for reg, n in zip(VENN_REGIONS, VENN_COUNTS):
    x, y = VENN_TEXT_POS[reg]
    ov.text(x, y, str(n), fontsize=32, fontweight="bold", ha="center", va="baseline")
for (x, y), name in zip([(263, 983), (1134, 983), (691, 2125)], VENN_SETS):
    ov.text(x, y, name, fontsize=40, fontweight="bold", ha="center", va="baseline")


# ================= F-H =================
def enrich(rect, terms, factor, pval, count, cls, classes, breaks, xlim, xticks, size_fit,
           cbar_rect, cbar_ticks, cbar_fmt, leg):
    a = fig.add_axes(box(*rect))
    n = len(terms)
    ypos = np.arange(n)
    a.set_xlim(*xlim)
    a.set_ylim(n - 0.4, -0.6)
    a.set_yticks(ypos, terms)
    a.set_xticks(xticks)
    a.set_xticks(np.arange(xticks[0] - 0.5, xticks[-1] + 1.0, 1.0), minor=True)
    a.grid(True, which="major", color="#ebebeb", lw=1.8)
    a.grid(True, which="minor", axis="x", color="#f3f3f3", lw=0.9)
    a.set_axisbelow(True)
    for s in a.spines.values():
        s.set_color("#7f7f7f")
        s.set_linewidth(1.6)
    a.tick_params(which="major", length=6, width=1.3, color="#333333", labelsize=21.5,
                  labelcolor="#1a1a1a", pad=4)
    a.tick_params(which="minor", length=0)
    a.set_xlabel("enrichFactor", fontsize=30, labelpad=4, color="#1a1a1a")
    pv = np.array(pval, dtype=float)
    norm = Normalize(np.nanmin(pv), np.nanmax(pv))
    ka, kp = size_fit
    for k, name in enumerate(classes):
        m = SHAPES[k]
        idx = [i for i in range(n) if cls[i] == name]
        if not idx:
            continue
        xs = [factor[i] for i in idx]
        ys = [ypos[i] for i in idx]
        cols = [KEGG_CMAP(norm(pv[i])) if np.isfinite(pv[i]) else "#808080" for i in idx]
        sz = [pt(SHAPE_SCALE[m] * ka * count[i] ** kp) ** 2 for i in idx]
        a.scatter(xs, ys, s=sz, marker=m, color=cols, linewidths=2.0 if m == "+" else 0, zorder=3)

    cax = fig.add_axes(box(*cbar_rect))
    ColorbarBase(cax, cmap=KEGG_CMAP, norm=norm, ticks=cbar_ticks)
    cax.set_yticklabels([cbar_fmt.format(t) for t in cbar_ticks])
    for s in cax.spines.values():
        s.set_visible(False)
    cax.tick_params(length=0, labelsize=18, pad=14, labelcolor="#1a1a1a")
    for t in cbar_ticks:
        cax.plot([0, 0.2], [t, t], color="white", lw=1.2)
        cax.plot([0.8, 1], [t, t], color="white", lw=1.2)

    tx = cbar_rect[0]
    ov.text(tx, leg["title_y"], r"$-\mathrm{log}_{10}\mathrm{(pvalue)}$", fontsize=21, va="center",
            color="#1a1a1a")
    ov.text(tx, leg["class_y"], "class", fontsize=20, va="center", color="#1a1a1a")
    for k, name in enumerate(classes):
        yy = leg["class_y"] + leg["class_step"] * (k + 1)
        m = SHAPES[k]
        ov.scatter([leg["mx"]], [yy], s=pt(13 * SHAPE_SCALE[m]) ** 2, marker=m, color="black",
                   linewidths=1.6 if m == "+" else 0)
        ov.text(leg["tx"], yy, name, fontsize=19, va="center", color="#1a1a1a")
    cy0 = leg["class_y"] + leg["class_step"] * (len(classes) + 1)
    ov.text(tx, cy0, "count", fontsize=20, va="center", color="#1a1a1a")
    for k, b in enumerate(breaks):
        yy = cy0 + leg["count_step"] * (k + 1)
        ov.scatter([leg["cmx"]], [yy], s=pt(ka * b ** kp) ** 2, marker="o", color="black", lw=0)
        ov.text(leg["tx"], yy, str(b), fontsize=19, va="center", color="#1a1a1a")


enrich((1959, 947, 2290, 2050), F_TERMS, F_FACTOR, F_PVAL, F_COUNT, F_CLASS, F_CLASSES, F_COUNT_BREAKS,
       (1.36, 6.92), [2, 3, 4, 5, 6], (8.98, 0.262), (2302, 1107, 2355, 1365), [4, 6, 8, 10, 12, 14], "{:g}",
       dict(title_y=1072, class_y=1406, class_step=52, count_step=52, mx=2328, cmx=2328, tx=2370))
enrich((561, 2220, 892, 3323), G_TERMS, G_FACTOR, G_PVAL, G_COUNT, G_CLASS, G_CLASSES, G_COUNT_BREAKS,
       (1.08, 7.17), [2, 3, 4, 5, 6, 7], (12.41, 0.1788), (903, 2354, 954, 2610), [6, 8, 10, 12, 14], "{:g}",
       dict(title_y=2319, class_y=2656, class_step=52, count_step=52.5, mx=929, cmx=938, tx=971))
enrich((1958, 2220, 2290, 3324), H_TERMS, H_FACTOR, H_PVAL, H_COUNT, H_CLASS, H_CLASSES, H_COUNT_BREAKS,
       (1.06, 5.22), [2, 3, 4, 5], (7.148, 0.2596), (2303, 2354, 2352, 2610), [5, 7.5, 10, 12.5, 15], "{:.1f}",
       dict(title_y=2320, class_y=2662, class_step=52, count_step=52.5, mx=2326, cmx=2330, tx=2368))

# panel letters
for (x, y), letter in zip([(66, 89), (742, 103), (1318, 103), (1927, 98), (75, 929), (1322, 941),
                           (90, 2211), (1343, 2211)], "ABCDEFGH"):
    ov.text(x, y, letter, fontsize=66, fontweight="bold", ha="center", va="baseline")

fig.savefig("out.png", dpi=100, facecolor="white")
